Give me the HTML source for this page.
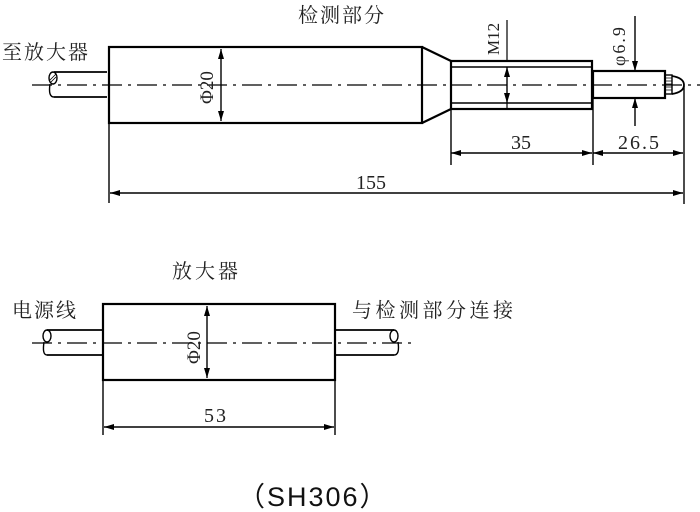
<!DOCTYPE html>
<html><head><meta charset="utf-8"><style>
html,body{margin:0;padding:0;background:#fff;}
svg{display:block;}
</style></head><body>
<svg width="700" height="512" viewBox="0 0 700 512" xmlns="http://www.w3.org/2000/svg">
<defs>
<marker id="a" viewBox="0 0 10 6" refX="10" refY="3" markerWidth="14" markerHeight="6" markerUnits="userSpaceOnUse" orient="auto-start-reverse"><path d="M0,0 L10,3 L0,6 Z" fill="#000"/></marker>
</defs>
<g stroke="#000" fill="none" stroke-width="1.2">
<text x="298" y="22" style="font-family:'Liberation Serif','Noto Serif CJK SC',serif;font-size:20px;letter-spacing:2px" fill="#222" stroke="none">检测部分</text>
<text x="2" y="59" style="font-family:'Liberation Serif','Noto Serif CJK SC',serif;font-size:20px;letter-spacing:2px" fill="#222" stroke="none">至放大器</text>
<path d="M107,72 H54 M107,97 H54" stroke-width="1.8"/>
<ellipse cx="53" cy="78" rx="4" ry="6" stroke-width="1.4"/>
<path d="M50,84 Q48,97 54,97" stroke-width="1.4"/>
<path d="M50,80 L56,74 M50,83 L56,77" stroke-width="0.8"/>
<rect x="109" y="47" width="313" height="76" stroke-width="2.2"/>
<path d="M422,47 L451,61 M422,123 L451,109" stroke-width="2.2"/>
<rect x="451" y="61" width="141" height="48" stroke-width="2.2"/>
<path d="M451,67 H592 M451,103 H592" stroke-width="1.4"/>
<rect x="593" y="71" width="72" height="27" stroke-width="2.2"/>
<rect x="665" y="75" width="7" height="19" stroke-width="1.4"/>
<path d="M665,78 H672 M665,81 H672 M665,84 H672 M665,87 H672 M665,90 H672" stroke-width="0.8"/>
<path d="M672,76 Q684,78 684,85 Q684,92 672,94" stroke-width="1.8"/>
<path d="M32,85 H700" stroke-dasharray="20,6,3,6" stroke-width="1.2"/>
<line x1="221" y1="49" x2="221" y2="121" marker-start="url(#a)" marker-end="url(#a)" stroke-width="1.4"/>
<text x="0" y="0" style="font-family:'Liberation Serif',serif;font-size:19px" fill="#222" stroke="none" transform="translate(213,104) rotate(-90)">Φ20</text>
<line x1="507" y1="20" x2="507" y2="61"/>
<line x1="507" y1="67" x2="507" y2="103" marker-start="url(#a)" marker-end="url(#a)" stroke-width="1.4"/>
<line x1="507" y1="103" x2="507" y2="109"/>
<text x="0" y="0" style="font-family:'Liberation Serif',serif;font-size:17px" fill="#222" stroke="none" transform="translate(499,55) rotate(-90)">M12</text>
<line x1="635" y1="16" x2="635" y2="71" marker-end="url(#a)" stroke-width="1.4"/>
<line x1="635" y1="126" x2="635" y2="98" marker-end="url(#a)" stroke-width="1.4"/>
<text x="0" y="0" style="font-family:'Liberation Serif',serif;font-size:18px;letter-spacing:2px" fill="#222" stroke="none" transform="translate(625,66) rotate(-90)">φ6.9</text>
<path d="M109,123 V203 M451,109 V165 M593,99 V165 M684,86 V204" stroke-width="1.4"/>
<line x1="451" y1="153" x2="592" y2="153" marker-start="url(#a)" marker-end="url(#a)" stroke-width="1.4"/>
<line x1="593" y1="153" x2="683" y2="153" marker-start="url(#a)" marker-end="url(#a)" stroke-width="1.4"/>
<line x1="110" y1="193" x2="683" y2="193" marker-start="url(#a)" marker-end="url(#a)" stroke-width="1.4"/>
<text x="511" y="149" style="font-family:'Liberation Serif',serif;font-size:20px" fill="#222" stroke="none">35</text>
<text x="618" y="149" style="font-family:'Liberation Serif',serif;font-size:20px;letter-spacing:2px" fill="#222" stroke="none">26.5</text>
<text x="356" y="189" style="font-family:'Liberation Serif',serif;font-size:20px" fill="#222" stroke="none">155</text>

<text x="172" y="278" style="font-family:'Liberation Serif','Noto Serif CJK SC',serif;font-size:20px;letter-spacing:3px" fill="#222" stroke="none">放大器</text>
<text x="12" y="317" style="font-family:'Liberation Serif','Noto Serif CJK SC',serif;font-size:20px;letter-spacing:2px" fill="#222" stroke="none">电源线</text>
<text x="352" y="317" style="font-family:'Liberation Serif','Noto Serif CJK SC',serif;font-size:20px;letter-spacing:3.5px" fill="#222" stroke="none">与检测部分连接</text>
<path d="M103,330 H47 M103,355 H47" stroke-width="1.8"/>
<ellipse cx="47" cy="336" rx="4" ry="6" stroke-width="1.4"/>
<path d="M44,342 Q42,355 47,355" stroke-width="1.4"/>
<path d="M335,330 H394 M335,355 H394" stroke-width="1.8"/>
<ellipse cx="394" cy="336" rx="4" ry="6" stroke-width="1.4"/>
<path d="M398,342 Q400,355 394,355" stroke-width="1.4"/>
<rect x="103" y="304" width="232" height="76" stroke-width="2.2"/>
<path d="M32,343 H412" stroke-dasharray="20,6,3,6" stroke-width="1.2"/>
<line x1="207" y1="306" x2="207" y2="378" marker-start="url(#a)" marker-end="url(#a)" stroke-width="1.4"/>
<text x="0" y="0" style="font-family:'Liberation Serif',serif;font-size:19px" fill="#222" stroke="none" transform="translate(200,364) rotate(-90)">Φ20</text>
<path d="M103,380 V435 M335,380 V435" stroke-width="1.4"/>
<line x1="104" y1="427" x2="334" y2="427" marker-start="url(#a)" marker-end="url(#a)" stroke-width="1.4"/>
<text x="204" y="422" style="font-family:'Liberation Serif',serif;font-size:20px;letter-spacing:2px" fill="#222" stroke="none">53</text>
<text x="238" y="506" style="font-family:'Liberation Sans','Noto Sans CJK SC',sans-serif;font-size:27px;letter-spacing:2px" fill="#111" stroke="none">（SH306）</text>
</g>
</svg>
</body></html>
